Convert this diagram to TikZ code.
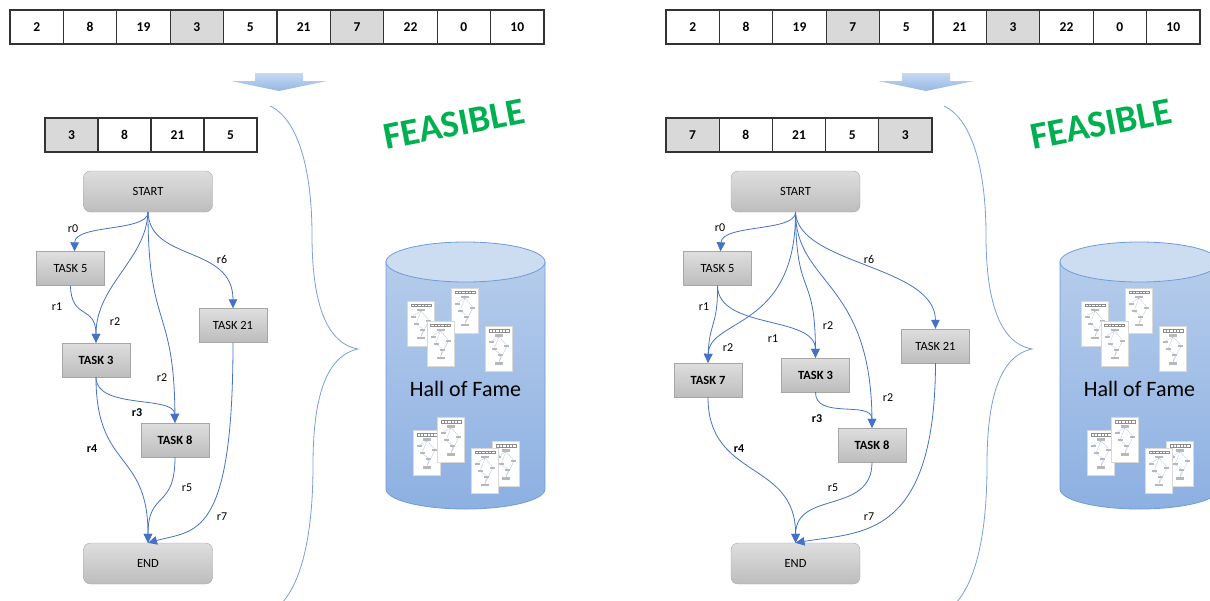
\documentclass[tikz,border=0pt]{standalone}
\usepackage{fontspec}
\setmainfont{Carlito}
\usetikzlibrary{arrows.meta}
\definecolor{flowblue}{HTML}{4472C4}
\definecolor{pick}{HTML}{D9D9D9}
\definecolor{boxtop}{HTML}{DEDEDE}
\definecolor{boxbot}{HTML}{BDBDBD}
\definecolor{boxline}{HTML}{A6A6A6}
\definecolor{bracecol}{HTML}{7A9EDB}
\definecolor{arrtop}{HTML}{C6D9F1}
\definecolor{arrbot}{HTML}{95B7E4}
\definecolor{cyltop}{HTML}{CDDDF1}
\definecolor{cylt}{HTML}{B5CCEB}
\definecolor{cylb}{HTML}{8DB0E2}
\definecolor{cyledge}{HTML}{6F9BD8}
\definecolor{okgreen}{HTML}{00B050}
\tikzset{
  cell/.style={draw=black!80, line width=1.1pt, minimum width=53.4pt,
    minimum height=34pt, inner sep=0pt, font=\fontsize{13.5}{14}\selectfont\bfseries},
  termbox/.style={draw=boxline, rounded corners=7pt, top color=boxtop, bottom color=boxbot,
    minimum width=129pt, minimum height=41pt, font=\fontsize{12.5}{13}\selectfont},
  taskbox/.style={draw=boxline, top color=boxtop, bottom color=boxbot, minimum width=68pt,
    minimum height=34pt, inner sep=0pt, font=\fontsize{12.5}{13}\selectfont},
  keytask/.style={taskbox, font=\fontsize{12.5}{13}\selectfont\bfseries},
  flow/.style={draw=flowblue, line width=0.8pt, -{Triangle[length=9pt,width=8.5pt]}},
  rlbl/.style={inner sep=0pt, font=\fontsize{12}{12}\selectfont},
  keylbl/.style={rlbl, font=\fontsize{12}{12}\selectfont\bfseries},
  brace/.style={draw=bracecol, line width=0.8pt},
  feasible/.style={text=okgreen, rotate=11, inner sep=0pt, font=\fontsize{38}{38}\selectfont\bfseries},
  hof/.style={inner sep=0pt, font=\fontsize{22}{22}\selectfont},
  % small copy of a solution sheet stored in the hall of fame
  hofdoc/.pic={
    \filldraw[fill=white, draw=black!15, line width=0.3pt] (-13.5,-22.5) rectangle (13.5,22.5);
    \foreach \k in {0,...,5}
      \draw[black!45, line width=0.25pt] ({-10+3.3*\k},-19.5) rectangle +(3.3,2.2);
    \fill[black!28] (-4,-15) rectangle (4,-12.5);
    \fill[black!28] (-10,-8) rectangle (-5,-6);
    \fill[black!28] (-7,-1) rectangle (-2,1);
    \fill[black!28] (5,-4) rectangle (10,-2);
    \fill[black!28] (-1,5) rectangle (4,7);
    \fill[black!28] (-4,13) rectangle (4,15.5);
    \draw[flowblue!45, line width=0.25pt] (0,-12.5) -- (-7.5,-8) (0,-12.5) -- (-4.5,-1)
      (0,-12.5) -- (7.5,-4) (-4.5,1) -- (1.5,5) (1.5,7) -- (0,13) (7.5,-2) -- (0,13);
  }
}

\begin{document}
\begin{tikzpicture}[x=1pt, y=-1pt]
  \useasboundingbox (0,0) rectangle (1210,600);
  \clip (0,0) rectangle (1210,600);

  % full sequences
  \foreach \v/\f [count=\i] in {2/white,8/white,19/white,3/pick,5/white,21/white,7/pick,22/white,0/white,10/white}
    \node[cell, fill=\f] (la\i) at ({10+53.4*(\i-0.5)},27) {\v};
  \foreach \v/\f [count=\i] in {2/white,8/white,19/white,7/pick,5/white,21/white,3/pick,22/white,0/white,10/white}
    \node[cell, fill=\f] (ra\i) at ({666+53.4*(\i-0.5)},27) {\v};

  % decoded task lists
  \foreach \v/\f [count=\i] in {3/pick,8/white,21/white,5/white}
    \node[cell, fill=\f, minimum width=53pt] (lb\i) at ({45+53*(\i-0.5)},135) {\v};
  \foreach \v/\f [count=\i] in {7/pick,8/white,21/white,5/white,3/pick}
    \node[cell, fill=\f, minimum width=53.2pt] (rb\i) at ({666+53.2*(\i-0.5)},135) {\v};

  % block arrows
  \foreach \dx in {0,647}
    \path[top color=arrtop, bottom color=arrbot, xshift=\dx pt]
      (255,73) -- (303,73) -- (303,81) -- (327,81) -- (279,91) -- (231,81) -- (255,81) -- cycle;

  \node[feasible] (lok) at (454,124) {FEASIBLE};
  \node[feasible] (rok) at (1101,124) {FEASIBLE};

  % braces and hall of fame
  \foreach \dx in {0,674} {
    \begin{scope}[xshift=\dx pt]
      \draw[brace] (270,106) .. controls (300,120) and (312,175) .. (312,235)
        .. controls (312,300) and (325,343) .. (358,349)
        .. controls (325,356) and (313,400) .. (313,465)
        .. controls (313,540) and (300,585) .. (280,605);
      \path[top color=cylt, bottom color=cylb, draw=cyledge, line width=0.8pt]
        (386,262) -- (386,489) arc[start angle=180, end angle=0, x radius=79.5, y radius=20]
        -- (545,262) -- cycle;
      \path[fill=cyltop, draw=cyledge, line width=0.8pt] (465.5,262) ellipse[x radius=79.5, y radius=20];
      \pic at (421,323.5) {hofdoc};
      \pic at (465,310.5) {hofdoc};
      \pic at (440.5,343.5) {hofdoc};
      \pic at (499,349) {hofdoc};
      \pic at (427,453) {hofdoc};
      \pic at (451,440) {hofdoc};
      \pic at (506,464) {hofdoc};
      \pic at (485,470.5) {hofdoc};
    \end{scope}
  }
  \node[hof] (lhof) at (465.5,389) {Hall of Fame};
  \node[hof] (rhof) at (1139.5,389) {Hall of Fame};

  % left schedule
  \node[termbox] (lstart) at (148,191.5) {START};
  \node[taskbox] (ltk5) at (70.5,268.5) {TASK 5};
  \node[keytask] (ltk3) at (96,360) {TASK 3};
  \node[taskbox] (ltk21) at (233,325.5) {TASK 21};
  \node[keytask] (ltk8) at (175,440) {TASK 8};
  \node[termbox] (lend) at (148,563.5) {END};

  \draw[flow] (lstart.south) .. controls (148,232) and (75,224) .. ([xshift=4pt]ltk5.north);
  \draw[flow] (lstart.south) .. controls (146,260) and (96,285) .. (ltk3.north);
  \draw[flow] (ltk5.south) .. controls (71,320) and (96,305) .. (ltk3.north);
  \draw[flow] (lstart.south) .. controls (148,330) and (174,305) .. (ltk8.north);
  \draw[flow] (lstart.south) .. controls (150,262) and (233,245) .. (ltk21.north);
  \draw[flow] (ltk3.south) .. controls (96,410) and (174,395) .. (ltk8.north);
  \draw[flow] (ltk3.south) .. controls (96,470) and (148,450) .. (lend.north);
  \draw[flow] (ltk8.south) .. controls (175,510) and (148,490) .. (lend.north);
  \draw[flow] (ltk21.south) .. controls (233,540) and (195,530) .. (lend.north);

  \node[rlbl] (lr0) at (73,229) {r0};
  \node[rlbl] (lr1) at (57,307) {r1};
  \node[rlbl] (lr2a) at (115,322) {r2};
  \node[rlbl] (lr2b) at (162,378) {r2};
  \node[rlbl] (lr6) at (222,259) {r6};
  \node[keylbl] (lr3) at (137,413) {r3};
  \node[keylbl] (lr4) at (92,449) {r4};
  \node[rlbl] (lr5) at (187,488) {r5};
  \node[rlbl] (lr7) at (222,517) {r7};

  % right schedule
  \node[termbox] (rstart) at (795.5,191.5) {START};
  \node[taskbox] (rtk5) at (717.5,268.5) {TASK 5};
  \node[keytask] (rtk7) at (708,380) {TASK 7};
  \node[keytask] (rtk3) at (815.5,375) {TASK 3};
  \node[taskbox] (rtk21) at (935.5,346) {TASK 21};
  \node[keytask] (rtk8) at (872,445) {TASK 8};
  \node[termbox] (rend) at (795.5,563.5) {END};

  \draw[flow] (rstart.south) .. controls (796,232) and (722,224) .. ([xshift=3pt]rtk5.north);
  \draw[flow] (rtk5.south) .. controls (718,326) and (709,323) .. (rtk7.north);
  \draw[flow] (rstart.south) .. controls (796,330) and (709,318) .. (rtk7.north);
  \draw[flow] (rtk5.south) .. controls (718,330) and (815,315) .. (rtk3.north);
  \draw[flow] (rstart.south) .. controls (796,300) and (815,270) .. (rtk3.north);
  \draw[flow] (rstart.south) .. controls (796,285) and (871,280) .. (rtk8.north);
  \draw[flow] (rstart.south) .. controls (798,265) and (935,265) .. (rtk21.north);
  \draw[flow] (rtk3.south) .. controls (815,420) and (872,400) .. (rtk8.north);
  \draw[flow] (rtk7.south) .. controls (708,480) and (796,460) .. (rend.north);
  \draw[flow] (rtk8.south) .. controls (872,515) and (796,490) .. (rend.north);
  \draw[flow] (rtk21.south) .. controls (935,540) and (860,532) .. (rend.north);

  \node[rlbl] (rr0) at (720,228) {r0};
  \node[rlbl] (rr1a) at (704,307) {r1};
  \node[rlbl] (rr2a) at (728,348) {r2};
  \node[rlbl] (rr1b) at (773,339) {r1};
  \node[rlbl] (rr2b) at (828,326) {r2};
  \node[rlbl] (rr2c) at (888,398) {r2};
  \node[rlbl] (rr6) at (869,259) {r6};
  \node[keylbl] (rr3) at (817,419) {r3};
  \node[keylbl] (rr4) at (739,449) {r4};
  \node[rlbl] (rr5) at (833,488) {r5};
  \node[rlbl] (rr7) at (869,517) {r7};
\end{tikzpicture}
\end{document}
